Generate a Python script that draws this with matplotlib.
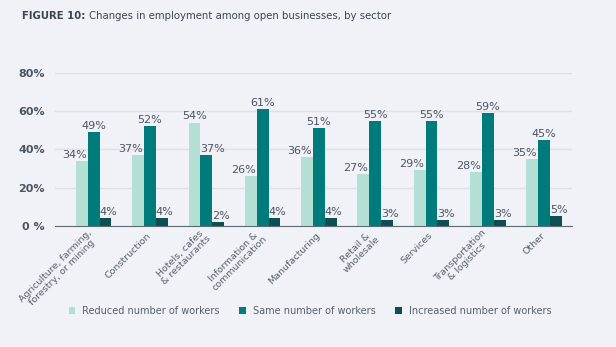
import numpy as np
import matplotlib.pyplot as plt

sectors = ["Agriculture, farming,\nforestry, or mining", "Construction",
           "Hotels, cafes\n& restaurants", "Information &\ncommunication",
           "Manufacturing", "Retail &\nwholesale", "Services",
           "Transportation\n& logistics", "Other"]
reduced = [34, 37, 54, 26, 36, 27, 29, 28, 35]
same = [49, 52, 37, 61, 51, 55, 55, 59, 45]
increased = [4, 4, 2, 4, 4, 3, 3, 3, 5]
series_names = ["Reduced number of workers", "Same number of workers",
                "Increased number of workers"]
yticks = [0, 20, 40, 60, 80]

bg = "#f1f2f7"
colors = ["#b4dfd5", "#007b7b", "#0e4f51"]
txt = "#4b5563"

fig = plt.figure(figsize=(6.16, 3.47), dpi=100, facecolor=bg)
ax = fig.add_axes([0.089, 0.349, 0.840, 0.441], facecolor=bg)

x = np.arange(len(sectors))
w = 0.21
for i, vals in enumerate([reduced, same, increased]):
    ax.bar(x + (i - 1) * w, vals, w, color=colors[i], label=series_names[i],
           zorder=3)

# value labels, nudged so neighbours don't collide (like the original)
for k in range(len(sectors)):
    r, s, inc = reduced[k], same[k], increased[k]
    if r > s:
        ax.text(x[k] - w, r + 0.6, f"{r}%", ha="center", va="bottom",
                fontsize=8, color=txt)
        ax.text(x[k] - w / 2, s + 0.6, f"{s}%", ha="left", va="bottom",
                fontsize=8, color=txt)
    else:
        ax.text(x[k] - w / 2 - 0.02, r + 0.6, f"{r}%", ha="right",
                va="bottom", fontsize=8, color=txt)
        ax.text(x[k], s + 0.6, f"{s}%", ha="center", va="bottom",
                fontsize=8, color=txt)
    ax.text(x[k] + w / 2, inc + 0.6, f"{inc}%", ha="left", va="bottom",
            fontsize=8, color=txt)

ax.set_xlim(-0.69, 8.5)
ax.set_ylim(0, 80)
ax.set_yticks(yticks)
ax.set_yticklabels([f"{t} %" if t == 0 else f"{t}%" for t in yticks],
                   fontsize=8, color=txt, fontweight="bold")
ax.tick_params(axis="y", length=0, pad=7)
ax.grid(axis="y", color="#dde0e7", linewidth=1, zorder=0)
for s in ["top", "right", "left"]:
    ax.spines[s].set_visible(False)
ax.spines["bottom"].set_color("#5f6b73")
ax.spines["bottom"].set_zorder(5)

ax.set_xticks(x)
ax.set_xticklabels(sectors, rotation=45, ha="right", va="center",
                   rotation_mode="anchor", fontsize=6.8, color="#56606b",
                   multialignment="center", linespacing=1.0)
ax.tick_params(axis="x", length=0, pad=6)

leg = fig.legend(loc="center", bbox_to_anchor=(0.503, 0.104), ncol=3,
                 frameon=False, fontsize=7, handlelength=0.7,
                 handleheight=0.7, columnspacing=2.0, handletextpad=0.7)
for t in leg.get_texts():
    t.set_color("#56606b")

t1 = fig.text(0.036, 0.955, "FIGURE 10:", fontsize=7.3, fontweight="bold",
              color="#3a4550", va="center")
fig.canvas.draw()
bb = t1.get_window_extent().transformed(fig.transFigure.inverted())
fig.text(bb.x1 + 0.006, 0.955,
         "Changes in employment among open businesses, by sector",
         fontsize=7.3, color="#3a4550", va="center")

fig.savefig("out.png", dpi=100, facecolor=bg)
